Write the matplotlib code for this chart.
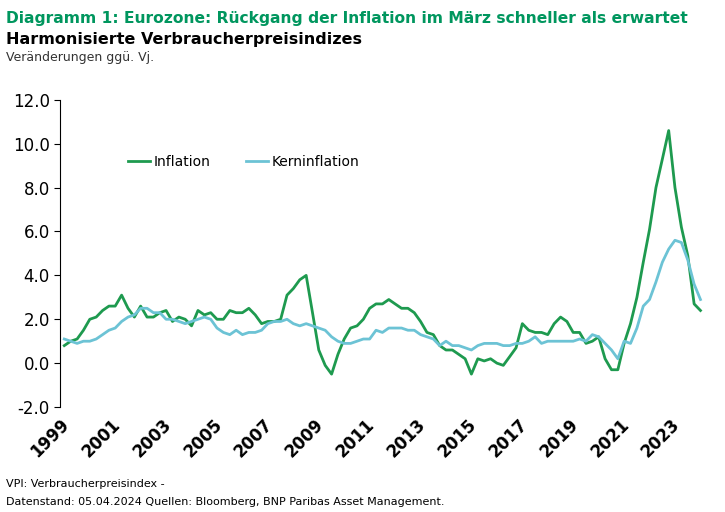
import pandas as pd
import matplotlib.pyplot as plt

# quarterly readings, 1999Q1 .. 2024Q1
inflation = [0.8, 1.0, 1.1, 1.5, 2.0, 2.1, 2.4, 2.6, 2.6, 3.1, 2.5, 2.1,
             2.6, 2.1, 2.1, 2.3, 2.4, 1.9, 2.1, 2.0, 1.7, 2.4, 2.2, 2.3,
             2.0, 2.0, 2.4, 2.3, 2.3, 2.5, 2.2, 1.8, 1.9, 1.9, 2.0, 3.1,
             3.4, 3.8, 4.0, 2.3, 0.6, -0.1, -0.5, 0.4, 1.1, 1.6, 1.7, 2.0,
             2.5, 2.7, 2.7, 2.9, 2.7, 2.5, 2.5, 2.3, 1.9, 1.4, 1.3, 0.8,
             0.6, 0.6, 0.4, 0.2, -0.5, 0.2, 0.1, 0.2, 0.0, -0.1, 0.3, 0.7,
             1.8, 1.5, 1.4, 1.4, 1.3, 1.8, 2.1, 1.9, 1.4, 1.4, 0.9, 1.0,
             1.2, 0.2, -0.3, -0.3, 0.9, 1.8, 3.0, 4.6, 6.1, 8.0, 9.3, 10.6,
             8.0, 6.2, 4.9, 2.7, 2.4]
core = [1.1, 1.0, 0.9, 1.0, 1.0, 1.1, 1.3, 1.5, 1.6, 1.9, 2.1, 2.2,
        2.5, 2.5, 2.3, 2.3, 2.0, 2.0, 1.9, 1.8, 1.9, 2.0, 2.1, 2.0,
        1.6, 1.4, 1.3, 1.5, 1.3, 1.4, 1.4, 1.5, 1.8, 1.9, 1.9, 2.0,
        1.8, 1.7, 1.8, 1.7, 1.6, 1.5, 1.2, 1.0, 0.9, 0.9, 1.0, 1.1,
        1.1, 1.5, 1.4, 1.6, 1.6, 1.6, 1.5, 1.5, 1.3, 1.2, 1.1, 0.8,
        1.0, 0.8, 0.8, 0.7, 0.6, 0.8, 0.9, 0.9, 0.9, 0.8, 0.8, 0.9,
        0.9, 1.0, 1.2, 0.9, 1.0, 1.0, 1.0, 1.0, 1.0, 1.1, 1.0, 1.3,
        1.2, 0.9, 0.6, 0.2, 1.0, 0.9, 1.6, 2.6, 2.9, 3.7, 4.6, 5.2,
        5.6, 5.5, 4.7, 3.6, 2.9]
dates = pd.date_range("1999-02-15", periods=len(inflation), freq="3MS")
year_ticks = list(range(1999, 2025, 2))

green = "#1e9a4f"
blue = "#6cc3d5"

fig = plt.figure(figsize=(7.25, 5.12), dpi=100)
fig.text(0.008, 0.978, "Diagramm 1: Eurozone: Rückgang der Inflation im März schneller als erwartet",
         color="#00965e", fontsize=11.2, fontweight="bold", va="top")
fig.text(0.008, 0.938, "Harmonisierte Verbraucherpreisindizes", fontsize=11.5,
         fontweight="bold", va="top")
fig.text(0.008, 0.9, "Veränderungen ggü. Vj.", fontsize=9, color="#333333", va="top")
fig.text(0.008, 0.045, "VPI: Verbraucherpreisindex -", fontsize=8, va="bottom")
fig.text(0.008, 0.01, "Datenstand: 05.04.2024 Quellen: Bloomberg, BNP Paribas Asset Management.",
         fontsize=8, va="bottom")

ax = fig.add_axes([0.083, 0.205, 0.892, 0.6])
ax.plot(dates, inflation, color=green, lw=2, label="Inflation")
ax.plot(dates, core, color=blue, lw=2, label="Kerninflation")
ax.set_ylim(-2, 12)
ax.set_yticks(range(-2, 13, 2))
ax.set_yticklabels([f"{v:.1f}" for v in range(-2, 13, 2)], fontsize=12)
ax.set_xlim(pd.Timestamp("1999-01-01"), pd.Timestamp("2024-06-01"))
ax.set_xticks([pd.Timestamp(f"{y}-01-01") for y in year_ticks])
ax.set_xticklabels([str(y) for y in year_ticks], rotation=45, ha="right",
                   rotation_mode="anchor", fontsize=12, fontweight="bold")
for s in ["top", "right", "bottom"]:
    ax.spines[s].set_visible(False)
ax.tick_params(axis="x", length=0, pad=6)
ax.tick_params(axis="y", length=4)
ax.legend(loc="upper left", bbox_to_anchor=(0.085, 0.86), ncols=2, frameon=False,
          fontsize=10, handlelength=1.6, handletextpad=0.3, columnspacing=2.5)

fig.savefig("out.png", dpi=100)
